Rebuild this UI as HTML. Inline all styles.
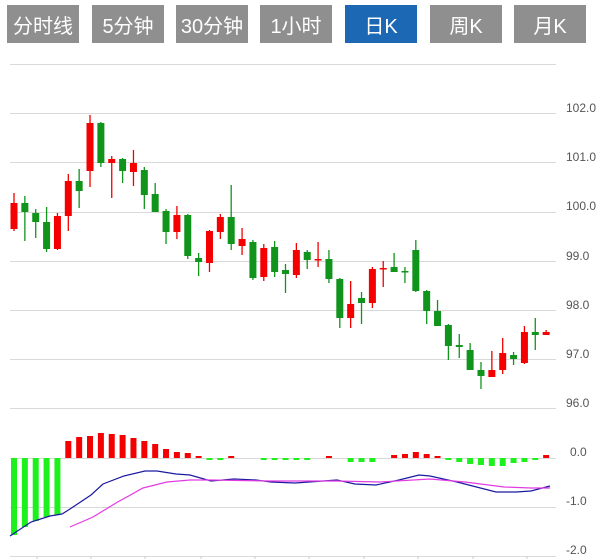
<!DOCTYPE html>
<html><head><meta charset="utf-8"><style>
html,body{margin:0;padding:0;background:#fff;width:604px;height:559px;overflow:hidden}
.b{position:absolute;top:5px;height:38px;width:72px;background:#8f8f8f;color:#fff;font:20px "Liberation Sans","Noto Sans CJK SC",sans-serif;display:flex;align-items:center;justify-content:center}
.a{background:#1c68b5}
</style></head><body>
<div class="b" style="left:7px">分时线</div>
<div class="b" style="left:92px">5分钟</div>
<div class="b" style="left:176px">30分钟</div>
<div class="b" style="left:260px">1小时</div>
<div class="b a" style="left:345px">日K</div>
<div class="b" style="left:430px">周K</div>
<div class="b" style="left:514px">月K</div>
<svg id="s" width="604" height="559" style="position:absolute;left:0;top:0" xmlns="http://www.w3.org/2000/svg" font-family="Liberation Sans, sans-serif" font-size="12" fill="#555">
<g stroke="#d9d9d9" stroke-width="1">
<line x1="10" x2="556" y1="64.5" y2="64.5"/>
<line x1="10" x2="556" y1="113.5" y2="113.5"/>
<line x1="10" x2="556" y1="162.5" y2="162.5"/>
<line x1="10" x2="556" y1="212.5" y2="212.5"/>
<line x1="10" x2="556" y1="261.5" y2="261.5"/>
<line x1="10" x2="556" y1="310.5" y2="310.5"/>
<line x1="10" x2="556" y1="359.5" y2="359.5"/>
<line x1="10" x2="556" y1="408.5" y2="408.5"/>
<line x1="10" x2="556" y1="458.5" y2="458.5"/>
<line x1="10" x2="556" y1="507.5" y2="507.5"/>
<line x1="10" x2="556" y1="556.5" y2="556.5"/>
</g>
<text x="566" y="112">102.0</text>
<text x="566" y="161">101.0</text>
<text x="566" y="210">100.0</text>
<text x="566" y="260">99.0</text>
<text x="566" y="309">98.0</text>
<text x="566" y="358">97.0</text>
<text x="566" y="407">96.0</text>
<text x="570" y="456">0.0</text>
<text x="566" y="505">-1.0</text>
<text x="566" y="554">-2.0</text>
<g id="g"></g>
</svg>
<script>
var C=[
[1,203,229,193,231],[0,203,212,196,241],[0,213,222,209,238],[0,222,249,207,252],[1,216,249,213,250],
[1,181,216,174,231],[0,181,191,169,208],[1,123,171,115,187],[0,123,163,122,167],[1,159,163,156,198],
[0,159,171,158,183],[1,163,172,150,186],[0,170,195,167,209],[0,194,212,183,212],[0,211,232,209,244],
[1,215,232,206,239],[0,215,256,214,259],[0,258,262,253,276],[1,231,263,230,272],[1,217,232,214,239],
[0,217,244,185,250],[1,239,246,228,255],[0,242,278,240,280],[1,248,277,244,281],[0,247,272,241,277],
[0,270,274,264,293],[1,250,275,243,278],[0,252,260,250,269],[1,259,260,242,267],[0,259,279,250,283],
[0,279,318,278,328],[1,304,318,281,328],[0,298,303,292,324],[1,269,303,267,308],[1,268,269,261,287],
[0,267,272,253,272],[0,271,272,267,283],[0,250,291,240,292],[0,291,311,290,324],[0,311,326,300,326],
[0,325,346,324,360],[0,345,347,334,358],[0,350,370,343,370],[0,370,376,362,389],[1,370,377,351,377],
[1,353,370,338,374],[0,355,359,352,365],[1,332,363,326,364],[0,332,335,318,350],[1,332,335,330,335]];
var H=[535,527,521,517,515,441,437,436,433,434,435,438,441,444,449,452,453,456,460,460,456,458,458,460,460,460,460,460,458,456,458,462,462,462,458,455,454,452,454,456,460,462,464,465,466,466,463,462,460,455];
var s='';
for(var i=0;i<50;i++){var x=14+i*10.86,c=C[i],col=c[0]?'#f40000':'#11941b';
s+='<line x1="'+x+'" x2="'+x+'" y1="'+c[3]+'" y2="'+c[4]+'" stroke="'+col+'" stroke-width="1.3"/>';
s+='<rect x="'+(x-3.5)+'" y="'+c[1]+'" width="7" height="'+Math.max(1.5,c[2]-c[1])+'" fill="'+col+'"/>';
var h=H[i];if(h!=458){var y=Math.min(h,458),hh=Math.abs(h-458);
s+='<rect x="'+(x-3)+'" y="'+y+'" width="6" height="'+hh+'" fill="'+(h<458?'#f40000':'#1ef01e')+'"/>';}}
s+='<polyline fill="none" stroke="#1a1aa0" stroke-width="1.2" points="10,536 31,522 50,516 62,514 70,509 91,495 103,484 124,476 145,471 157,471 176,474 190,475 211,481 234,479 256,480 271,482 295,483 337,480 355,484 376,485 399,480 419,475 430,476 457,482 496,492 516,492 531,491 550,486"/>';
s+='<polyline fill="none" stroke="#e23be2" stroke-width="1.2" points="70,527 93,517 116,503 143,488 167,482 190,480 211,480 271,481 337,481 380,482 430,479 465,482 504,487 531,488 550,488"/>';
[37,91,145,201,255,309,364,418,473,527].forEach(function(t){s+='<line x1="'+t+'" x2="'+t+'" y1="556" y2="559" stroke="#ccc"/>';});
document.getElementById('g').innerHTML=s;
</script>
</body></html>
